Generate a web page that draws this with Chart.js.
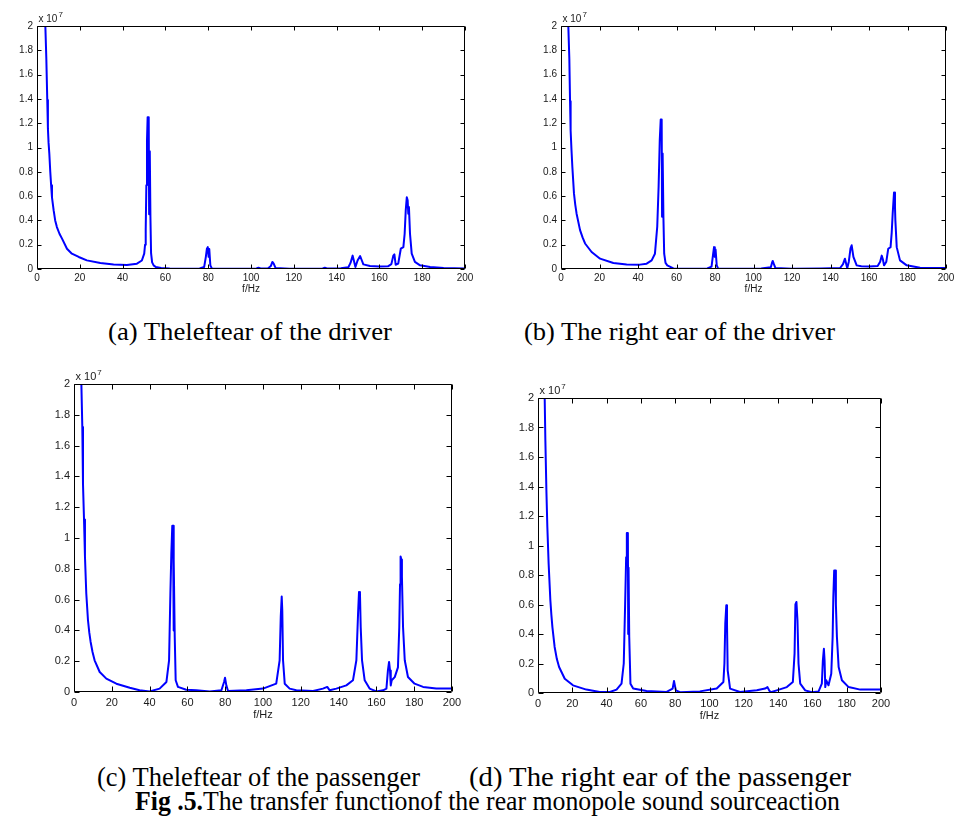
<!DOCTYPE html>
<html><head><meta charset="utf-8">
<script src="https://cdn.jsdelivr.net/npm/chart.js@4.4.0/dist/chart.umd.min.js"></script>
<style>
html,body{margin:0;padding:0;background:#fff;width:955px;height:823px;overflow:hidden;position:relative}
canvas{position:absolute}
.cap{position:absolute;font-family:"Liberation Serif","Times New Roman",serif;color:#000;white-space:nowrap;transform-origin:0 0;line-height:1}
</style></head><body>
<canvas id="ca" width="480" height="300" style="left:0px;top:0px"></canvas>
<canvas id="cb" width="475" height="300" style="left:480px;top:0px"></canvas>
<canvas id="cc" width="450" height="370" style="left:20px;top:360px"></canvas>
<canvas id="cd" width="420" height="360" style="left:490px;top:370px"></canvas>
<div class="cap" id="tA">(a) Theleftear of the driver</div>
<div class="cap" id="tB">(b) The right ear of the driver</div>
<div class="cap" id="tC">(c) Theleftear of the passenger</div>
<div class="cap" id="tD">(d) The right ear of the passenger</div>
<div class="cap" id="tF"><b>Fig .5.</b>The transfer functionof the rear monopole sound sourceaction</div>
<script>
// ---- tick labels ----
const xTicks = [0, 20, 40, 60, 80, 100, 120, 140, 160, 180, 200];
const yTicks = [0, 0.2, 0.4, 0.6, 0.8, 1, 1.2, 1.4, 1.6, 1.8, 2];
const xTitle = 'f/Hz';
const yExponent = '7';

// ---- (a) left ear of the driver (amplitude in units of 1e7) ----
const freqA = [3.5, 3.9, 4.36, 4.8, 5.1, 5.4, 5.76, 6.2, 6.6, 7.0, 7.8, 8.5, 9.3, 10.5, 11.7, 14, 16.3, 19.5, 23.3, 29.6, 35.8, 42, 46.7, 49, 50.1, 50.5, 50.8, 51.1, 51.4, 51.7, 52.2, 52.4, 52.7, 53.0, 53.3, 53.8, 54.5, 55.5, 58, 62, 70, 76, 78.1, 78.9, 79.4, 79.8, 80.2, 80.5, 81, 81.7, 85, 95, 102.5, 103.5, 104.5, 108, 109.3, 110, 110.6, 111.5, 118, 128, 133.5, 134.5, 135.5, 142, 145.5, 146.5, 147.5, 148.2, 148.8, 149.8, 151, 151.8, 152.5, 155.6, 160, 164, 165.6, 166.5, 167, 167.6, 168.8, 170, 171.2, 171.8, 172.3, 172.8, 173.2, 173.5, 173.8, 174.3, 175.1, 176.6, 179, 183.7, 190, 200];
const ampA  = [2.6, 2.0, 1.73, 1.39, 1.155, 1.04, 0.95, 0.80, 0.69, 0.59, 0.48, 0.40, 0.345, 0.29, 0.25, 0.167, 0.126, 0.099, 0.071, 0.049, 0.038, 0.033, 0.044, 0.07, 0.126, 0.2, 0.33, 0.69, 1.06, 1.25, 1.25, 0.45, 0.97, 0.43, 0.13, 0.055, 0.03, 0.016, 0.008, 0.004, 0.003, 0.005, 0.016, 0.1, 0.167, 0.18, 0.1, 0.165, 0.03, 0.005, 0.003, 0.003, 0.004, 0.01, 0.004, 0.006, 0.025, 0.058, 0.044, 0.008, 0.003, 0.003, 0.004, 0.01, 0.004, 0.006, 0.015, 0.05, 0.11, 0.06, 0.016, 0.07, 0.107, 0.07, 0.038, 0.025, 0.02, 0.022, 0.04, 0.11, 0.12, 0.035, 0.044, 0.167, 0.18, 0.29, 0.48, 0.59, 0.565, 0.455, 0.51, 0.29, 0.126, 0.058, 0.03, 0.016, 0.008, 0.005];

// ---- (b) right ear of the driver ----
const freqB = [3.4, 3.8, 4.33, 4.7, 5.0, 5.45, 5.9, 6.75, 7.4, 8.1, 9.9, 11.2, 12.5, 15.9, 20.3, 27.2, 34.1, 41, 44.5, 47.1, 48.8, 50.0, 50.7, 51.3, 51.8, 52.3, 52.5, 52.8, 53.2, 53.6, 54.3, 55.2, 58.4, 65, 76, 78.2, 79.0, 79.5, 79.9, 80.3, 80.9, 81.6, 90, 104, 109, 109.6, 110, 110.6, 111.4, 120, 135, 145, 146.5, 147.5, 148.2, 148.7, 149.5, 150.4, 151, 151.9, 153.6, 156, 160, 164.5, 165.8, 166.6, 167.2, 167.8, 169, 170, 171.2, 171.8, 172.3, 173, 173.5, 173.7, 174.4, 176.1, 179.6, 186.5, 200];
const ampB  = [2.6, 2.0, 1.73, 1.38, 1.14, 0.98, 0.84, 0.62, 0.53, 0.455, 0.32, 0.26, 0.21, 0.14, 0.085, 0.049, 0.038, 0.036, 0.044, 0.071, 0.126, 0.35, 0.675, 1.06, 1.23, 1.23, 0.43, 0.95, 0.43, 0.126, 0.05, 0.03, 0.005, 0.003, 0.004, 0.02, 0.12, 0.18, 0.1, 0.16, 0.03, 0.005, 0.003, 0.004, 0.015, 0.05, 0.066, 0.04, 0.008, 0.003, 0.004, 0.008, 0.04, 0.085, 0.04, 0.005, 0.06, 0.17, 0.195, 0.1, 0.03, 0.022, 0.02, 0.024, 0.06, 0.11, 0.08, 0.03, 0.06, 0.167, 0.18, 0.3, 0.455, 0.63, 0.51, 0.4, 0.18, 0.071, 0.03, 0.011, 0.008];

// ---- (c) left ear of the passenger ----
const freqC = [3.5, 3.9, 4.4, 4.76, 5.3, 5.8, 6.5, 7.4, 8.1, 8.8, 9.8, 10.9, 13.6, 17.1, 22.4, 29.5, 34.7, 40, 45.3, 48.9, 50.3, 51, 51.5, 52, 52.4, 52.6, 52.9, 53.3, 53.8, 55, 59.4, 64.7, 71.8, 78, 79.4, 79.9, 80.6, 81.5, 91.2, 100, 107, 108.8, 109.4, 109.9, 110.2, 110.6, 111.5, 114.1, 117.6, 126.5, 131.7, 134, 135.3, 138.8, 144.1, 147.6, 149.4, 150.3, 150.8, 151.3, 151.7, 152.4, 153.8, 156.4, 160, 163.5, 165.3, 166.1, 166.7, 167.2, 167.6, 168.1, 169.7, 171.4, 172.1, 172.5, 172.8, 173.2, 173.5, 174.1, 175, 176.7, 180.2, 184.7, 191.7, 200];
const ampC  = [2.6, 2.0, 1.72, 1.35, 1.12, 0.88, 0.64, 0.466, 0.385, 0.325, 0.26, 0.206, 0.13, 0.087, 0.054, 0.028, 0.011, 0.004, 0.022, 0.065, 0.206, 0.64, 0.9, 1.08, 1.08, 0.4, 0.856, 0.357, 0.076, 0.033, 0.015, 0.011, 0.004, 0.011, 0.065, 0.093, 0.043, 0.006, 0.011, 0.022, 0.054, 0.206, 0.49, 0.62, 0.53, 0.206, 0.054, 0.022, 0.011, 0.007, 0.022, 0.033, 0.011, 0.022, 0.043, 0.076, 0.206, 0.51, 0.65, 0.64, 0.42, 0.206, 0.076, 0.022, 0.004, 0.011, 0.022, 0.14, 0.195, 0.14, 0.043, 0.076, 0.097, 0.16, 0.42, 0.70, 0.88, 0.86, 0.75, 0.42, 0.206, 0.097, 0.054, 0.033, 0.022, 0.022];

// ---- (d) right ear of the passenger ----
const freqD = [3.5, 3.9, 4.3, 4.9, 5.45, 6.2, 7.2, 7.8, 8.4, 9.7, 11, 12.3, 15.6, 20.4, 28.2, 36, 41.9, 45.8, 48.7, 50, 50.8, 51.4, 51.8, 52.4, 52.6, 52.8, 53.2, 53.9, 55.5, 63.3, 75, 78.5, 79.3, 79.8, 80.4, 82.8, 94.4, 104.2, 108.1, 108.7, 109.2, 109.8, 110.2, 110.6, 112, 117.8, 127.6, 132.4, 133.8, 135, 135.7, 139.2, 145.1, 148.6, 149.6, 150.1, 150.7, 151.3, 151.9, 152.9, 155.8, 159.7, 163.6, 165.5, 166.1, 166.7, 167.1, 167.5, 168.1, 169.4, 171, 171.8, 172.2, 172.7, 173.3, 173.7, 174.3, 175.3, 177.2, 181.1, 187.9, 200];
const ampD  = [2.6, 2.0, 1.71, 1.37, 1.125, 0.877, 0.63, 0.53, 0.447, 0.312, 0.23, 0.176, 0.097, 0.052, 0.023, 0.007, 0.007, 0.023, 0.063, 0.2, 0.6, 0.92, 1.085, 1.085, 0.4, 0.85, 0.38, 0.063, 0.03, 0.014, 0.007, 0.03, 0.081, 0.052, 0.018, 0.005, 0.011, 0.03, 0.075, 0.2, 0.47, 0.595, 0.47, 0.154, 0.03, 0.007, 0.018, 0.03, 0.04, 0.014, 0.005, 0.018, 0.04, 0.075, 0.267, 0.6, 0.617, 0.49, 0.2, 0.063, 0.018, 0.005, 0.011, 0.063, 0.22, 0.3, 0.22, 0.04, 0.086, 0.052, 0.13, 0.38, 0.65, 0.83, 0.83, 0.6, 0.38, 0.176, 0.086, 0.04, 0.023, 0.023];

// ---- inward MATLAB-style ticks, box and exponent label ----
const boxTicks = {
  id: 'boxTicks',
  afterDraw(chart, args, opts) {
    const {ctx, chartArea: a, scales: {x, y}} = chart;
    const L = Math.round(a.left) + 0.5, R = Math.round(a.right) - 0.5;
    const T = Math.round(a.top) + 0.5, B = Math.round(a.bottom) - 0.5;
    ctx.save();
    ctx.strokeStyle = '#000';
    ctx.lineWidth = 1;
    ctx.beginPath();
    ctx.rect(L, T, R - L, B - T);
    const tl = opts.tl || 4;
    xTicks.forEach(v => {
      const p = Math.round(x.getPixelForValue(v)) + 0.5;
      ctx.moveTo(p, B); ctx.lineTo(p, B - tl);
      ctx.moveTo(p, T); ctx.lineTo(p, T + tl);
    });
    yTicks.forEach(v => {
      const p = Math.round(y.getPixelForValue(v)) + 0.5;
      ctx.moveTo(L, p); ctx.lineTo(L + tl, p);
      ctx.moveTo(R, p); ctx.lineTo(R - tl, p);
    });
    ctx.stroke();
    const fs = opts.fs || 10;
    ctx.fillStyle = '#1a1a1a';
    ctx.font = fs + 'px "Liberation Sans", Arial, sans-serif';
    ctx.textBaseline = 'alphabetic';
    ctx.textAlign = 'left';
    const ex = L + 1, ey = T - 5;
    ctx.fillText('x 10', ex, ey);
    const w = ctx.measureText('x 10').width;
    ctx.font = Math.round(fs * 0.75) + 'px "Liberation Sans", Arial, sans-serif';
    ctx.fillText(yExponent, ex + w + 1, ey - fs * 0.45);
    ctx.restore();
  }
};

function fmt(v) { return String(Number(v.toFixed(1))); }

function makeChart(id, fx, fy, c) {
  const tickFont = {family: '"Liberation Sans", Arial, sans-serif', size: c.fs};
  return new Chart(document.getElementById(id), {
    type: 'line',
    data: {datasets: [{
      data: fx.map((f, i) => ({x: f, y: fy[i]})),
      borderColor: '#0000ff', borderWidth: 2, pointRadius: 0, tension: 0, fill: false,
      borderJoinStyle: 'round', borderCapStyle: 'round'
    }]},
    options: {
      responsive: false, animation: false, events: [],
      layout: {padding: {left: 0, top: c.top, right: c.right, bottom: c.bottom}},
      plugins: {legend: {display: false}, tooltip: {enabled: false}, boxTicks: {fs: c.fs, tl: c.tl}},
      scales: {
        x: {
          type: 'linear', min: 0, max: 200,
          afterBuildTicks: s => { s.ticks = xTicks.map(v => ({value: v})); },
          afterFit: s => { s.height = c.xh; s.paddingLeft = 0; s.paddingRight = 0; },
          grid: {display: false, drawTicks: false}, border: {display: false},
          ticks: {padding: c.xpad, color: '#1a1a1a', font: tickFont, maxRotation: 0, autoSkip: false, callback: v => fmt(v)},
          title: {display: true, text: xTitle, color: '#1a1a1a', font: tickFont, padding: {top: 0, bottom: 0}}
        },
        y: {
          type: 'linear', min: 0, max: 2,
          afterBuildTicks: s => { s.ticks = yTicks.map(v => ({value: v})); },
          afterFit: s => { s.width = c.yw; s.paddingTop = 0; s.paddingBottom = 0; },
          grid: {display: false, drawTicks: false}, border: {display: false},
          ticks: {padding: 4, color: '#1a1a1a', font: tickFont, autoSkip: false, callback: v => fmt(v)}
        }
      }
    },
    plugins: [boxTicks]
  });
}

makeChart('ca', freqA, ampA, {top: 26, right: 15, bottom: 5, yw: 37, xh: 26, xpad: 3, fs: 10, tl: 4});
makeChart('cb', freqB, ampB, {top: 26, right: 9, bottom: 5, yw: 81, xh: 26, xpad: 3, fs: 10, tl: 4});
makeChart('cc', freqC, ampC, {top: 24, right: 18, bottom: 8, yw: 54, xh: 30, xpad: 4, fs: 11, tl: 5});
makeChart('cd', freqD, ampD, {top: 28, right: 29, bottom: 7, yw: 48, xh: 30, xpad: 4, fs: 11, tl: 5});

// ---- captions: position by baseline, stretch to the measured widths ----
const caps = [
  {id: 'tA', left: 108, width: 284, base: 340, fs: 25},
  {id: 'tB', left: 524, width: 311, base: 340, fs: 25},
  {id: 'tC', left: 97, width: 323, base: 787, fs: 27},
  {id: 'tD', left: 469, width: 382, base: 787, fs: 27},
  {id: 'tF', left: 135, width: 705, base: 811, fs: 27}
];
caps.forEach(c => {
  const el = document.getElementById(c.id);
  el.style.fontSize = c.fs + 'px';
  el.style.left = c.left + 'px';
  el.style.top = (c.base - 0.8375 * c.fs) + 'px';
  const w = el.getBoundingClientRect().width;
  el.style.transform = 'scaleX(' + (c.width / w) + ')';
});
</script>
</body></html>
